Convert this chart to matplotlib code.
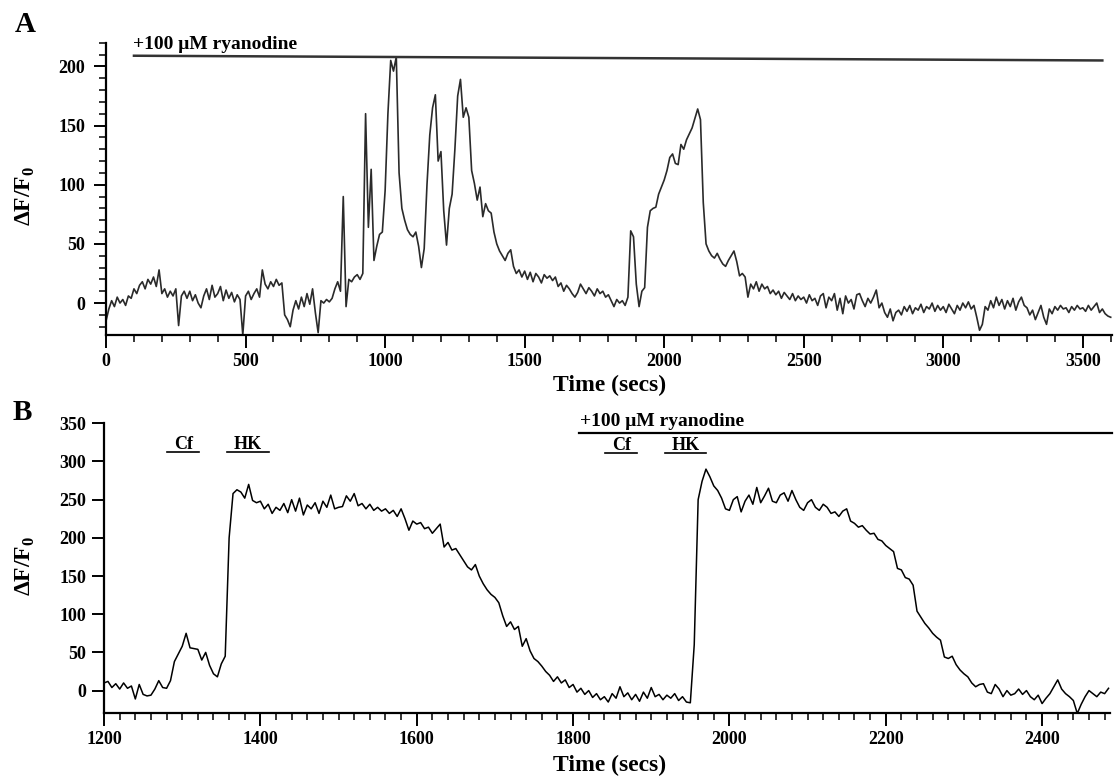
import numpy as np
import matplotlib
matplotlib.use('Agg')
import matplotlib.pyplot as plt
from matplotlib.ticker import MultipleLocator

plt.rcParams['font.family'] = ['Liberation Serif', 'DejaVu Serif']
plt.rcParams['font.weight'] = 'bold'
plt.rcParams['mathtext.fontset'] = 'custom'
plt.rcParams['mathtext.rm'] = 'Liberation Serif:bold'
plt.rcParams['mathtext.bf'] = 'Liberation Serif:bold'

# --- panel A: ryanodine alone, sampled every 10 s from 0 to 3600 s ---
dt_a = 10
dff_a = [
    -15, -5, 2, -3, 5, 0, 3, -2, 6, 4,
    12, 8, 15, 18, 12, 20, 16, 22, 14, 28,
    8, 12, 5, 10, 6, 12, -19, 6, 10, 4,
    10, 2, 7, 0, -4, 6, 12, 3, 15, 5,
    8, 14, 2, 11, 4, 9, 1, 7, 3, -27,
    6, 10, 3, 8, 12, 5, 28, 16, 12, 18,
    14, 20, 15, 17, -10, -14, -20, -6, 2, -5,
    5, -3, 8, -1, 12, -8, -25, 2, 0, 3,
    1, 4, 12, 18, 10, 90, -3, 20, 18, 22,
    24, 20, 25, 160, 64, 113, 36, 48, 58, 60,
    95, 160, 205, 196, 208, 110, 80, 70, 62, 58,
    56, 60, 48, 30, 46, 100, 142, 165, 176, 120,
    128, 78, 49, 80, 92, 130, 175, 189, 157, 165,
    157, 112, 101, 87, 98, 73, 84, 78, 76, 60,
    50, 44, 40, 36, 42, 45, 31, 25, 28, 22,
    27, 20, 26, 18, 25, 22, 17, 24, 21, 23,
    19, 22, 14, 17, 10, 15, 12, 8, 5, 9,
    16, 12, 8, 13, 10, 6, 12, 8, 10, 5,
    7, 2, -3, 3, 0, 2, -2, 5, 61, 56,
    16, -3, 10, 13, 64, 78, 80, 81, 92, 98,
    104, 112, 123, 126, 118, 117, 134, 130, 138, 143,
    148, 156, 164, 155, 85, 50, 44, 40, 38, 42,
    37, 33, 31, 36, 40, 44, 35, 23, 25, 22,
    5, 16, 12, 18, 10, 16, 12, 14, 8, 11,
    7, 10, 4, 9, 6, 3, 8, 2, 6, 3,
    5, 0, 7, 2, 4, -2, 6, 8, -4, 5,
    2, 8, -6, 4, -9, 6, 0, 3, -5, 7,
    8, 2, -3, 4, 0, 5, 11, -4, 0, -8,
    -12, -5, -15, -8, -6, -10, -3, -7, -2, -9,
    -4, -6, -1, -8, -3, -5, 0, -7, -2, -6,
    -3, -8, -1, -5, -9, -2, -6, 0, -4, 1,
    -5, -2, -12, -23, -18, -3, -6, 2, -4, 5,
    -2, 3, -5, 2, -3, 4, -6, 1, 5, -2,
    -4, -10, -6, -14, -8, -2, -12, -18, -5, -9,
    -3, -6, -2, -5, -4, -8, -3, -6, -2, -5,
    -4, -7, -2, -6, -3, 0, -8, -5, -9, -11,
    -12,
]
time_a = np.arange(len(dff_a)) * dt_a

# --- panel B: caffeine / high K+ before and after ryanodine, every 5 s from 1200 s ---
t0_b = 1200
dt_b = 5
dff_b = [
    10, 12, 4, 9, 2, 10, 3, 6, -11, 8,
    -5, -7, -6, 2, 13, 4, 3, 13, 38, 48,
    58, 75, 56, 55, 54, 40, 50, 33, 22, 18,
    35, 45, 200, 258, 263, 260, 252, 270, 249, 246,
    248, 238, 244, 232, 240, 236, 245, 233, 250, 235,
    252, 230, 243, 238, 246, 232, 248, 240, 256, 238,
    240, 241, 255, 248, 258, 242, 245, 238, 244, 236,
    240, 235, 238, 232, 236, 228, 238, 225, 210, 222,
    218, 220, 212, 214, 206, 212, 218, 188, 194, 184,
    186, 178, 170, 162, 158, 165, 150, 140, 132, 126,
    122, 115, 98, 84, 90, 80, 84, 58, 68, 52,
    42, 38, 32, 25, 20, 12, 18, 10, 14, 4,
    8, -2, 3, -5, 0, -9, -4, -12, -8, -15,
    -4, -10, 5, -8, -3, -12, -5, -14, -2, -10,
    4, -8, -5, -12, -6, -10, -4, -13, -8, -15,
    -16, 60, 250, 274, 290, 280, 268, 262, 252, 238,
    236, 250, 254, 234, 248, 256, 244, 266, 246, 255,
    265, 248, 246, 256, 259, 248, 262, 250, 240, 236,
    246, 250, 240, 236, 244, 240, 232, 234, 228, 235,
    238, 222, 219, 214, 216, 210, 205, 206, 198, 196,
    190, 186, 182, 160, 158, 148, 146, 138, 104, 96,
    88, 82, 75, 70, 66, 44, 42, 45, 34, 27,
    22, 18, 10, 5, 8, 9, -2, -4, 8, 2,
    -8, 0, -6, -4, 2, -5, 0, -8, -12, -6,
    -17, -10, -4, 5, 14, 2, -4, -8, -13, -30,
    -18, -8, 0, -4, -8, -2, -4, 3,
]
time_b = t0_b + np.arange(len(dff_b)) * dt_b

# drug application bars: (label, start, end)
bars_b = [('Cf', 1281, 1322), ('HK', 1357, 1411), ('Cf', 1841, 1882), ('HK', 1917, 1970)]
ryan_a = (100, 3570)
ryan_b = (1808, 2490)


def style_axis(ax):
    for side in ('top', 'right'):
        ax.spines[side].set_visible(False)
    for side in ('left', 'bottom'):
        ax.spines[side].set_linewidth(1.6)
    ax.tick_params(which='major', direction='out', length=9, width=1.4,
                   labelsize=13, pad=4)
    ax.tick_params(which='minor', direction='out', length=5, width=1.1)


fig = plt.figure(figsize=(11.14, 7.78), dpi=100)

# ---------------- A ----------------
ax_a = fig.add_axes([0.0952, 0.5694, 0.9031, 0.3757])
ax_a.plot(time_a, dff_a, color='#2a2a2a', lw=1.2)
ax_a.set_xlim(0, 3605)
ax_a.set_ylim(-27, 220)
ax_a.xaxis.set_major_locator(MultipleLocator(500))
ax_a.xaxis.set_minor_locator(MultipleLocator(100))
ax_a.yaxis.set_major_locator(MultipleLocator(50))
ax_a.yaxis.set_minor_locator(MultipleLocator(10))
style_axis(ax_a)
ax_a.tick_params(axis='y', which='major', pad=6)

ax_a.plot(ryan_a, [209, 205], color='#333333', lw=1.8, clip_on=False)
ax_a.text(ryan_a[0] - 3, 215, '+100 μM ryanodine', fontsize=14,
          va='baseline', ha='left')

# ---------------- B ----------------
ax_b = fig.add_axes([0.0934, 0.0839, 0.9031, 0.3720])
ax_b.plot(time_b, dff_b, color='black', lw=1.1)
ax_b.set_xlim(1200, 2487)
ax_b.set_ylim(-29, 350)
ax_b.xaxis.set_major_locator(MultipleLocator(200))
ax_b.xaxis.set_minor_locator(MultipleLocator(20))
ax_b.yaxis.set_major_locator(MultipleLocator(50))
style_axis(ax_b)

ax_b.plot(ryan_b, [337, 337], color='black', lw=1.6, clip_on=False)
ax_b.text(ryan_b[0] + 1, 347, '+100 μM ryanodine', fontsize=14,
          va='baseline', ha='left')
for i, (lab, start, end) in enumerate(bars_b):
    y_line = 313 if i < 2 else 311
    ax_b.plot([start, end], [y_line, y_line], color='black', lw=1.2)
    ax_b.text((start + end) / 2, y_line + 4, lab, fontsize=13,
              ha='center', va='baseline')

# panel letters, axis titles
fig.text(15 / 1114, 1 - 32 / 778, 'A', fontsize=21, va='baseline', ha='left')
fig.text(13 / 1114, 1 - 420 / 778, 'B', fontsize=21, va='baseline', ha='left')
for yc in (196, 566):
    fig.text(25 / 1114, 1 - yc / 778, 'ΔF/F$_0$', fontsize=17,
             rotation=90, ha='center', va='center')
for yb in (391, 771):
    fig.text(610 / 1114, 1 - yb / 778, 'Time (secs)', fontsize=17,
             ha='center', va='baseline')

fig.savefig('out.png', dpi=100, facecolor='white')
